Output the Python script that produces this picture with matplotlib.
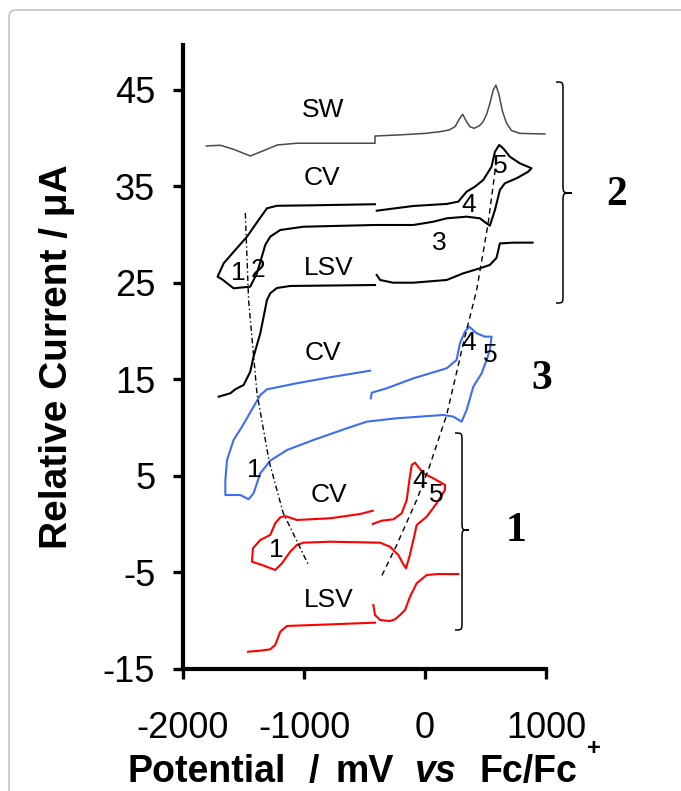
import matplotlib
matplotlib.use("Agg")
import matplotlib.pyplot as plt
import matplotlib.transforms as mtransforms
from matplotlib.path import Path
from matplotlib.patches import PathPatch, FancyBboxPatch

plt.rcParams['font.family'] = ['Liberation Sans', 'DejaVu Sans']
plt.rcParams['axes.unicode_minus'] = False

# ---------------- data (potential in mV vs Fc/Fc+, relative current in uA) ----------------
# compound 2 : square wave
sw2_x = [-1807, -1691, -1582, -1444, -1334, -1221, -1059, -413, -413, -200, 0, 124, 200, 248, 280,
         311, 340, 370, 407, 450, 481, 510, 536, 564, 586, 610, 640, 674, 715, 784, 990]
sw2_y = [39.2, 39.27, 38.85, 38.16, 38.71, 39.3, 39.48, 39.48, 40.23, 40.35, 40.5, 40.68, 40.85, 41.2, 41.9,
         42.48, 41.8, 41.2, 41.03, 41.3, 41.72, 42.5, 43.6, 45.0, 45.5, 44.6, 42.8, 41.55, 40.8, 40.5, 40.44]

# compound 2 : cyclic voltammogram
cv2_x = [-399, -96, 179, 275, 344, 413, 481, 550, 578, 613, 646, 701, 784, 880, 853, 757, 660, 619, 578,
         536, 509, 454, 344, 179, 69, -96, -413, -1004, -1196, -1279, -1320, -1389, -1444, -1582, -1677,
         -1714, -1664, -1568, -1471, -1375, -1306, -1224, -922, -413]
cv2_y = [32.49, 32.98, 33.19, 33.43, 34.46, 34.98, 35.67, 37.05, 38.6, 39.3, 38.96, 38.09, 37.4, 36.89,
         36.53, 35.85, 35.33, 34.64, 32.56, 30.94, 31.18, 31.7, 31.87, 31.7, 31.35, 31.01, 31.01, 30.83,
         30.49, 29.8, 28.94, 26.0, 24.62, 24.45, 25.38, 25.65, 27.04, 28.42, 29.8, 31.53, 32.74, 33.0,
         33.05, 33.16]

# compound 2 : linear sweep voltammetry (two potential windows)
lsv2a_x = [-1705, -1609, -1568, -1499, -1444, -1417, -1361, -1306, -1279, -1224, -1114, -413]
lsv2a_y = [13.22, 13.57, 13.98, 14.43, 15.81, 17.36, 19.79, 23.24, 23.93, 24.48, 24.69, 24.79]
lsv2b_x = [-399, -371, -264, -96, 179, 316, 454, 536, 591, 619, 729, 889]
lsv2b_y = [25.83, 25.31, 25.03, 25.03, 25.31, 26.0, 26.52, 26.87, 27.6, 29.1, 29.18, 29.18]

# compound 3 : cyclic voltammogram
cv3_x = [-448, -440, -316, -96, 179, 261, 289, 330, 366, 426, 495, 550, 536, 509, 468, 399, 344, 303,
         234, 151, -234, -481, -646, -922, -1141, -1279, -1361, -1417, -1458, -1526, -1650, -1650, -1636,
         -1582, -1512, -1417, -1361, -1306, -1059, -784, -454]
cv3_y = [13.05, 13.63, 14.09, 15.12, 16.16, 17.02, 18.75, 19.95, 20.47, 19.79, 19.44, 19.44, 18.06,
         17.02, 15.64, 14.25, 11.84, 10.63, 11.15, 11.32, 10.98, 10.63, 9.94, 8.73, 7.69, 6.59, 5.28,
         3.21, 2.59, 3.03, 3.03, 4.59, 6.66, 8.73, 10.11, 12.18, 13.39, 13.98, 14.61, 15.23, 15.91]

# compound 1 : cyclic voltammogram
cv1_x = [-432, -358, -261, -193, -151, -129, -110, -83, -14, 69, 165, 165, 96, 14, -69, -96, -129, -157,
         -184, -220, -289, -371, -784, -1004, -1059, -1114, -1182, -1238, -1347, -1430, -1422, -1361,
         -1279, -1238, -1196, -1155, -1059, -784, -536, -432]
cv1_y = [0.03, 0.37, 0.51, 1.13, 2.51, 4.59, 6.14, 6.38, 5.28, 4.76, 4.07, 3.55, 2.17, 0.78, -0.08,
         -1.63, -3.36, -4.57, -4.05, -3.19, -2.33, -1.91, -1.81, -1.91, -2.15, -2.84, -4.05, -4.74,
         -4.22, -3.88, -2.49, -1.63, -1.11, 0.10, 0.72, 0.85, 0.44, 0.62, 1.06, 1.40]

# compound 1 : linear sweep voltammetry
lsv1a_x = [-1463, -1361, -1279, -1238, -1196, -1141, -922, -413]
lsv1a_y = [-13.21, -13.1, -12.96, -12.51, -11.13, -10.54, -10.44, -10.2]
lsv1b_x = [-427, -413, -371, -289, -248, -206, -165, -124, -69, 14, 110, 275]
lsv1b_y = [-8.37, -9.4, -9.92, -10.03, -9.85, -9.4, -8.89, -7.51, -6.12, -5.26, -5.16, -5.16]

# guide lines through the peak series
guide_red_x = [-1485, -1458, -1389, -1287, -1172, -963]
guide_red_y = [32.25, 23.24, 13.6, 6.45, 1.17, -4.22]
guide_ox_x = [591, 522, 427, 330, 179, 27, -69, -234, -371]
guide_ox_y = [37.75, 31.19, 24.27, 19.44, 11.32, 5.62, 2.51, -2.15, -5.7]

x_ticks = [-2000, -1000, 0, 1000]
y_ticks = [-15, -5, 5, 15, 25, 35, 45]

# ---------------- figure ----------------
W, H = 681, 791
fig = plt.figure(figsize=(W / 100, H / 100), dpi=100)
pix = mtransforms.Affine2D().scale(1 / W, -1 / H).translate(0, 1) + fig.transFigure

# light frame of the original figure
frame = FancyBboxPatch((9, 10), 800, 900, boxstyle="round,pad=0,rounding_size=7",
                       transform=pix, facecolor='none', edgecolor='#c4c4c4', lw=1.2)
fig.patches.append(frame)

ax = fig.add_axes([183 / W, 1 - 669 / H, (546 - 183) / W, (669 - 45) / H])
ax.set_xlim(-2000, 1000)
ax.set_ylim(-15, 49.66)
for s in ['top', 'right']:
    ax.spines[s].set_visible(False)
for s in ['left', 'bottom']:
    ax.spines[s].set_linewidth(3)
ax.set_xticks(x_ticks)
ax.set_yticks(y_ticks)
ax.tick_params(axis='both', direction='out', length=7, width=2.4, labelsize=26)
ax.tick_params(axis='y', pad=13)
ax.tick_params(axis='x', pad=23)

ax.plot(sw2_x, sw2_y, color='#4a4a4a', lw=1.1)
ax.plot(cv2_x, cv2_y, color='black', lw=1.5)
ax.plot(lsv2a_x, lsv2a_y, color='black', lw=1.5)
ax.plot(lsv2b_x, lsv2b_y, color='black', lw=1.5)
ax.plot(cv3_x, cv3_y, color='#3d6df2', lw=1.5)
ax.plot(cv1_x, cv1_y, color='#ff0000', lw=1.5)
ax.plot(lsv1a_x, lsv1a_y, color='#ff0000', lw=1.5)
ax.plot(lsv1b_x, lsv1b_y, color='#ff0000', lw=1.5)
ax.plot(guide_red_x, guide_red_y, color='black', lw=1.0, ls=(0, (4, 2, 1, 2)))
ax.plot(guide_ox_x, guide_ox_y, color='black', lw=1.0, ls=(0, (4, 3)))

# curve annotations (x centre, baseline)
labels = [("SW", -846, 42.17), ("CV", -852, 35.16), ("4", 365, 32.39), ("5", 625, 36.37),
          ("3", 117, 28.42), ("1", -1547, 25.31), ("2", -1382, 25.65), ("LSV", -798, 25.83),
          ("CV", -846, 17.02), ("4", 365, 18.06), ("5", 536, 16.84), ("1", -1409, 4.93),
          ("CV", -790, 2.34), ("4", -41, 3.73), ("5", 96, 2.34), ("1", -1231, -3.36),
          ("LSV", -798, -8.54)]
for t, x, y in labels:
    ax.text(x, y, t, fontsize=19, ha='center', va='baseline')

# curly braces grouping compounds
def brace(xl, xm, xt, top, mid, bot, r=9):
    verts = [(xl, top), (xm, top), (xm, top), (xm, top + r),
             (xm, mid - r), (xm, mid), (xm, mid), (xt, mid),
             (xm, mid), (xm, mid), (xm, mid + r),
             (xm, bot - r), (xm, bot), (xm, bot), (xl, bot)]
    codes = [Path.MOVETO, Path.CURVE4, Path.CURVE4, Path.CURVE4,
             Path.LINETO, Path.CURVE4, Path.CURVE4, Path.CURVE4,
             Path.CURVE4, Path.CURVE4, Path.CURVE4,
             Path.LINETO, Path.CURVE4, Path.CURVE4, Path.CURVE4]
    fig.patches.append(PathPatch(Path(verts, codes), transform=pix, facecolor='none',
                                 edgecolor='black', lw=1.1))

brace(556, 563, 572, 82, 193, 303)
brace(455, 462, 469, 433, 530, 630)

for t, px, py in [("2", 617, 195), ("3", 541.7, 379.2), ("1", 515.8, 530.8)]:
    fig.text(px / W, 1 - py / H, t, fontsize=30, fontweight='bold', family='Liberation Serif',
             ha='center', va='center')

# axis titles
fig.text(57.5 / W, 1 - 356.5 / H, "Relative Current / μA", rotation=90, fontsize=28,
         fontweight='bold', ha='center', va='center')
base = 1 - 782 / H
xl_kw = dict(fontsize=27, fontweight='bold', ha='left', va='baseline')
fig.text(128 / W, base, "Potential", **xl_kw)
fig.text(309 / W, base, "/", **xl_kw)
fig.text(336 / W, base, "mV", **xl_kw)
fig.text(415 / W, base, "vs", style='italic', **xl_kw)
fig.text(479 / W, base, "Fc/Fc", **xl_kw)
fig.text(587 / W, 1 - 755 / H, "+", fontsize=17, fontweight='bold', ha='left', va='baseline')

fig.savefig("out.png", dpi=100)
